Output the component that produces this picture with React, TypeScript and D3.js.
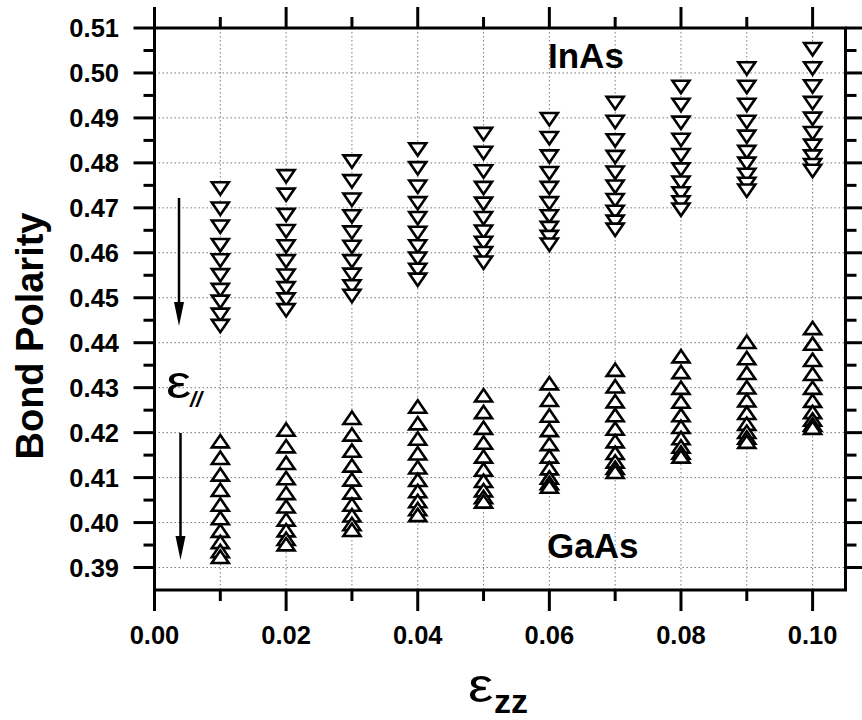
import React from "react";
import * as d3 from "d3";

// ---- data ----
const epsZZ = [0.01, 0.02, 0.03, 0.04, 0.05, 0.06, 0.07, 0.08, 0.09, 0.10];

const inAsPolarity = [
  [0.4743, 0.4698, 0.4658, 0.4617, 0.4583, 0.4550, 0.4517, 0.4491, 0.4462, 0.4437],
  [0.4770, 0.4729, 0.4684, 0.4648, 0.4614, 0.4581, 0.4549, 0.4521, 0.4496, 0.4472],
  [0.4803, 0.4759, 0.4718, 0.4681, 0.4645, 0.4613, 0.4581, 0.4551, 0.4525, 0.4504],
  [0.4830, 0.4788, 0.4747, 0.4710, 0.4677, 0.4644, 0.4614, 0.4587, 0.4562, 0.4540],
  [0.4864, 0.4822, 0.4781, 0.4744, 0.4709, 0.4677, 0.4647, 0.4622, 0.4599, 0.4578],
  [0.4897, 0.4855, 0.4814, 0.4777, 0.4744, 0.4710, 0.4681, 0.4655, 0.4635, 0.4618],
  [0.4933, 0.4891, 0.4850, 0.4813, 0.4778, 0.4747, 0.4717, 0.4691, 0.4669, 0.4651],
  [0.4969, 0.4929, 0.4889, 0.4851, 0.4817, 0.4785, 0.4756, 0.4732, 0.4712, 0.4696],
  [0.5010, 0.4969, 0.4929, 0.4891, 0.4858, 0.4824, 0.4798, 0.4773, 0.4753, 0.4738],
  [0.5053, 0.5010, 0.4970, 0.4933, 0.4898, 0.4866, 0.4838, 0.4814, 0.4795, 0.4782],
];

const gaAsPolarity = [
  [0.4181, 0.4144, 0.4107, 0.4073, 0.4040, 0.4010, 0.3982, 0.3957, 0.3937, 0.3924],
  [0.4207, 0.4170, 0.4133, 0.4099, 0.4066, 0.4036, 0.4007, 0.3983, 0.3964, 0.3952],
  [0.4233, 0.4196, 0.4160, 0.4127, 0.4096, 0.4067, 0.4040, 0.4016, 0.3997, 0.3984],
  [0.4258, 0.4221, 0.4187, 0.4154, 0.4123, 0.4095, 0.4070, 0.4048, 0.4030, 0.4017],
  [0.4283, 0.4246, 0.4211, 0.4178, 0.4147, 0.4118, 0.4093, 0.4072, 0.4057, 0.4047],
  [0.4310, 0.4273, 0.4238, 0.4206, 0.4175, 0.4147, 0.4121, 0.4100, 0.4088, 0.4080],
  [0.4340, 0.4303, 0.4270, 0.4239, 0.4209, 0.4181, 0.4155, 0.4136, 0.4122, 0.4113],
  [0.4370, 0.4335, 0.4300, 0.4269, 0.4239, 0.4213, 0.4188, 0.4169, 0.4156, 0.4147],
  [0.4402, 0.4366, 0.4333, 0.4301, 0.4272, 0.4244, 0.4220, 0.4202, 0.4189, 0.4180],
  [0.4433, 0.4398, 0.4362, 0.4331, 0.4300, 0.4271, 0.4246, 0.4229, 0.4218, 0.4211],
];

const xMajorTicks = [0.0, 0.02, 0.04, 0.06, 0.08, 0.1];
const xMinorTicks = [0.01, 0.03, 0.05, 0.07, 0.09];
const xGrid = [0.01, 0.02, 0.03, 0.04, 0.05, 0.06, 0.07, 0.08, 0.09, 0.1];
const yMajorTicks = [0.39, 0.40, 0.41, 0.42, 0.43, 0.44, 0.45, 0.46, 0.47, 0.48, 0.49, 0.50, 0.51];
const yMinorTicks = [0.395, 0.405, 0.415, 0.425, 0.435, 0.445, 0.455, 0.465, 0.475, 0.485, 0.495, 0.505];
const yGrid = [0.39, 0.40, 0.41, 0.42, 0.43, 0.44, 0.45, 0.46, 0.47, 0.48, 0.49, 0.50];

const W = 862;
const H = 720;
const FONT = "'Liberation Sans', Arial, Helvetica, sans-serif";

export default function App() {
  const x = d3.scaleLinear().domain([0, 0.105]).range([154.5, 845.5]);
  const y = d3.scaleLinear().domain([0.385, 0.51]).range([590, 28]);
  const [x0, x1] = x.range();
  const [yb, yt] = y.range();

  const MAJ = 21;
  const MIN = 11;
  const tw = 8.5; // half width of triangle
  const th = 6.2; // half height of triangle

  const downTri = (cx: number, cy: number) =>
    `M${cx - tw},${cy - th}L${cx + tw},${cy - th}L${cx},${cy + th}Z`;
  const upTri = (cx: number, cy: number) =>
    `M${cx - tw},${cy + th}L${cx + tw},${cy + th}L${cx},${cy - th}Z`;

  const fmt = d3.format(".2f");

  return (
    <div style={{ position: "absolute", left: 0, top: 0 }}>
      <svg width={W} height={H} style={{ display: "block", background: "#fff" }}>
        <rect x={0} y={0} width={W} height={H} fill="#fff" />
        {/* grid */}
        <g stroke="#7a7a7a" strokeWidth={1} strokeDasharray="1.5,2.5">
          {yGrid.map((v) => (
            <line key={"gy" + v} x1={x0} x2={x1} y1={y(v)} y2={y(v)} />
          ))}
          {xGrid.map((v) => (
            <line key={"gx" + v} x1={x(v)} x2={x(v)} y1={yt} y2={yb} />
          ))}
        </g>

        {/* markers */}
        <g fill="#fff" stroke="#000" strokeWidth={2.6} strokeLinejoin="miter">
          {epsZZ.map((e, i) =>
            inAsPolarity[i].map((p, j) => (
              <path key={`in${i}-${j}`} d={downTri(x(e), y(p))} />
            ))
          )}
          {epsZZ.map((e, i) =>
            gaAsPolarity[i].map((p, j) => (
              <path key={`ga${i}-${j}`} d={upTri(x(e), y(p))} />
            ))
          )}
        </g>

        {/* frame */}
        <g stroke="#000" strokeWidth={3} fill="none" strokeLinecap="square">
          <rect x={x0} y={yt} width={x1 - x0} height={yb - yt} />
        </g>

        {/* ticks */}
        <g stroke="#000" strokeWidth={3}>
          {xMajorTicks.map((v) => (
            <g key={"xM" + v}>
              <line x1={x(v)} x2={x(v)} y1={yb} y2={yb + MAJ} />
              <line x1={x(v)} x2={x(v)} y1={yt} y2={yt - MAJ} />
            </g>
          ))}
          {xMinorTicks.map((v) => (
            <g key={"xm" + v}>
              <line x1={x(v)} x2={x(v)} y1={yb} y2={yb + MIN} />
              <line x1={x(v)} x2={x(v)} y1={yt} y2={yt - MIN} />
            </g>
          ))}
          {yMajorTicks.map((v) => (
            <g key={"yM" + v}>
              <line x1={x0} x2={x0 - MAJ} y1={y(v)} y2={y(v)} />
              <line x1={x1} x2={x1 + MAJ} y1={y(v)} y2={y(v)} />
            </g>
          ))}
          {yMinorTicks.map((v) => (
            <g key={"ym" + v}>
              <line x1={x0} x2={x0 - MIN} y1={y(v)} y2={y(v)} />
              <line x1={x1} x2={x1 + MIN} y1={y(v)} y2={y(v)} />
            </g>
          ))}
        </g>

        {/* tick labels */}
        <g fontFamily={FONT} fontWeight="bold" fontSize={25.5} fill="#000">
          {yMajorTicks.map((v) => (
            <text key={"yl" + v} x={119} y={y(v)} dy="0.36em" textAnchor="end">
              {fmt(v)}
            </text>
          ))}
          {xMajorTicks.map((v) => (
            <text key={"xl" + v} x={x(v)} y={644} textAnchor="middle">
              {fmt(v)}
            </text>
          ))}
        </g>

        {/* axis titles */}
        <text
          fontFamily={FONT}
          fontWeight="bold"
          fontSize={38}
          textAnchor="middle"
          transform={`translate(43,${(yt + yb) / 2 + 27}) rotate(-90)`}
        >
          Bond Polarity
        </text>
        <text fontFamily={FONT} transform="translate(468,702) scale(1.18,1)" x={0} y={0}>
          <tspan fontSize={48}>ε</tspan>
        </text>
        <text fontFamily={FONT} fontSize={34} fontWeight="bold" x={494} y={713}>
          zz
        </text>

        {/* annotations */}
        <text fontFamily={FONT} fontWeight="bold" fontSize={35} x={548} y={68}>
          InAs
        </text>
        <text fontFamily={FONT} fontWeight="bold" fontSize={35} x={547} y={558}>
          GaAs
        </text>
        <text fontFamily={FONT} transform="translate(166,398) scale(1.2,1)" fontSize={47}>
          ε
        </text>
        <text fontFamily={FONT} fontSize={22} fontStyle="italic" fontWeight="bold" x={190} y={407}>
          //
        </text>

        {/* arrows */}
        <g stroke="#000" strokeWidth={2.5}>
          <line x1={179} x2={179} y1={198} y2={308} />
          <line x1={180.5} x2={180.5} y1={433} y2={543} />
        </g>
        <g fill="#000">
          <path d="M174,302L184,302L179,326Z" />
          <path d="M175.5,536L185.5,536L180.5,560Z" />
        </g>
      </svg>
    </div>
  );
}
